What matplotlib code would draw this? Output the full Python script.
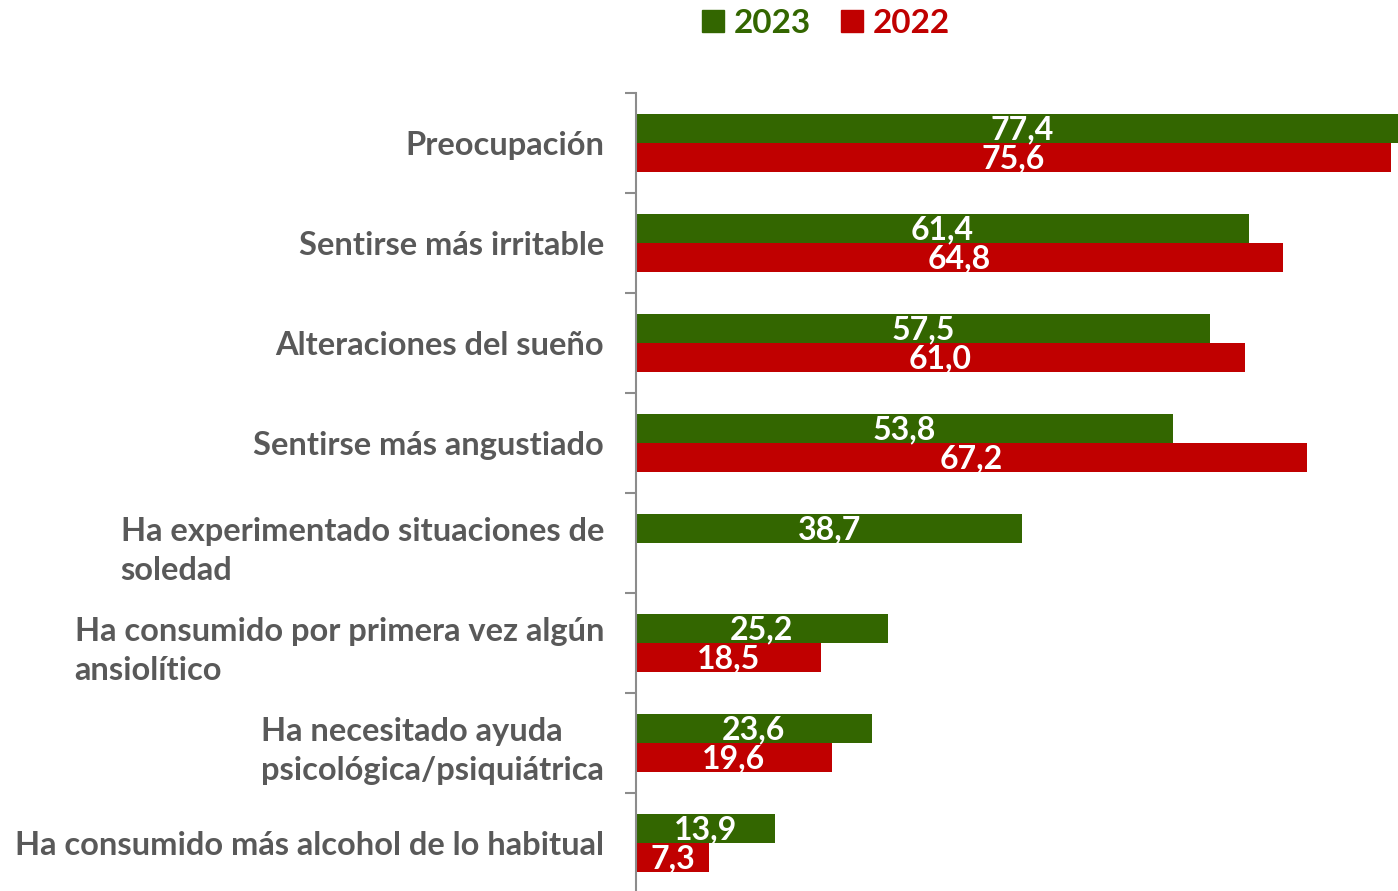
import numpy as np
import matplotlib.pyplot as plt
from matplotlib.patches import Patch
from matplotlib.ticker import FixedLocator

categories = [
    "Preocupación",
    "Sentirse más irritable",
    "Alteraciones del sueño",
    "Sentirse más angustiado",
    "Ha experimentado situaciones de\nsoledad",
    "Ha consumido por primera vez algún\nansiolítico",
    "Ha necesitado ayuda\npsicológica/psiquiátrica",
    "Ha consumido más alcohol de lo habitual",
]
values_2023 = [77.4, 61.4, 57.5, 53.8, 38.7, 25.2, 23.6, 13.9]
values_2022 = [75.6, 64.8, 61.0, 67.2, np.nan, 18.5, 19.6, 7.3]

GREEN = "#336600"
RED = "#C00000"
GRAY = "#595959"

plt.rcParams["font.family"] = ["Lato", "DejaVu Sans"]

fig = plt.figure(figsize=(13.98, 8.91), dpi=100)
ax = fig.add_axes([636 / 1398, -2 / 891, 1 - 636 / 1398, 800 / 891])

y = np.arange(len(categories))
h = 0.285
off = 0.143

b23 = ax.barh(y - off, values_2023, height=h, color=GREEN, label="2023")
b22 = ax.barh(y + off, values_2022, height=h, color=RED, label="2022")

# value labels, comma decimal, centred in each bar
for bars, vals in ((b23, values_2023), (b22, values_2022)):
    for bar, v in zip(bars, vals):
        if np.isnan(v):
            continue
        ax.text(v / 2, bar.get_y() + bar.get_height() / 2 + 0.015,
                f"{v:.1f}".replace(".", ","),
                ha="center", va="center", color="white",
                fontsize=23, fontweight="bold")

ax.set_xlim(0, 76.35)
ax.set_ylim(len(categories) - 0.5, -0.5)

for s in ("top", "right", "bottom"):
    ax.spines[s].set_visible(False)
ax.spines["left"].set_color("#8c8c8c")
ax.spines["left"].set_linewidth(1.5)
ax.set_xticks([])

ax.set_yticks(y)
ax.set_yticklabels(categories, fontsize=23.5, fontweight="bold", color=GRAY,
                   multialignment="left", linespacing=1.45)
ax.tick_params(axis="y", which="major", length=0, pad=23)
ax.yaxis.set_minor_locator(FixedLocator(np.arange(-0.5, len(categories), 1)))
ax.tick_params(axis="y", which="minor", length=8, width=1.5, color="#8c8c8c")

handles = [Patch(color=GREEN), Patch(color=RED)]
leg = fig.legend(handles, ["2023", "2022"], loc="upper center",
                 bbox_to_anchor=(826 / 1398, 1.024), ncol=2, frameon=False,
                 prop={"size": 24, "weight": "bold"},
                 handlelength=0.65, handleheight=0.65, handletextpad=0.3,
                 columnspacing=0.9)
for txt, c in zip(leg.get_texts(), (GREEN, RED)):
    txt.set_color(c)

fig.savefig("out.png", dpi=100)
